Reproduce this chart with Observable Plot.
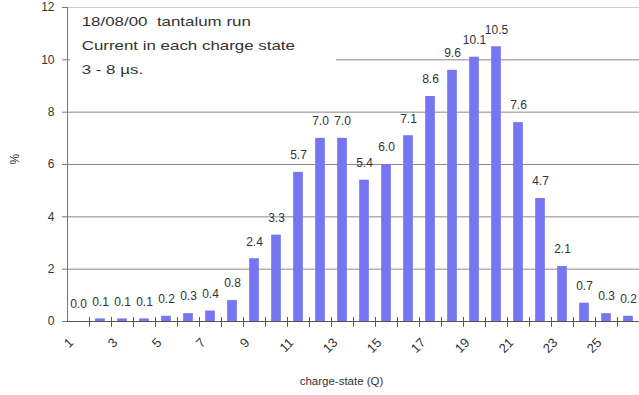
<!DOCTYPE html>
<html>
<head>
<meta charset="utf-8">
<script src="https://cdn.jsdelivr.net/npm/d3@7"></script>
<script src="https://cdn.jsdelivr.net/npm/@observablehq/plot@0.6"></script>
<style>
  body { margin: 0; background: #fff; font-family: "Liberation Sans", Arial, sans-serif; }
  #chart { position: relative; width: 639px; height: 395px; overflow: hidden; }
  #chart svg { display: block; }
  #note {
    position: absolute; left: 70px; top: 10px; width: 266px; height: 68px;
    background: #fff; color: #333; font-size: 13px; line-height: 24px;
  }
  #note div { transform: scaleX(1.3); transform-origin: 0 0; white-space: pre; padding-left: 9px; }
</style>
</head>
<body>
<div id="chart"></div>
<script>
// Charge states of the tantalum beam and the share of current in each (%)
const states = [1, 2, 3, 4, 5, 6, 7, 8, 9, 10, 11, 12, 13, 14, 15, 16, 17, 18, 19, 20, 21, 22, 23, 24, 25, 26];
const percent = [0.0, 0.1, 0.1, 0.1, 0.2, 0.3, 0.4, 0.8, 2.4, 3.3, 5.7, 7.0, 7.0, 5.4, 6.0, 7.1, 8.6, 9.6, 10.1, 10.5, 7.6, 4.7, 2.1, 0.7, 0.3, 0.2];
const xTickLabels = [1, 3, 5, 7, 9, 11, 13, 15, 17, 19, 21, 23, 25];
const yTicks = [0, 2, 4, 6, 8, 10, 12];
const noteLines = ["18/08/00  tantalum run", "Current in each charge state", "3 - 8 µs."];

const data = states.map((s, i) => ({state: s, pct: percent[i]}));
// category boundaries, where the axis tick marks sit
const boundaries = states.slice(0, -1).map(s => s + 0.5);
const half = 0.22; // half bar width, in category units

const chart = Plot.plot({
  width: 639,
  height: 395,
  marginLeft: 67,
  marginRight: 0,
  marginTop: 7,
  marginBottom: 74,
  style: {fontFamily: "'Liberation Sans', Arial, sans-serif", fontSize: "11px", color: "#333", background: "#fff"},
  x: {type: "linear", domain: [states[0] - 0.5, states[states.length - 1] + 0.5]},
  y: {domain: [0, 12]},
  marks: [
    Plot.ruleY(yTicks.filter(t => t > 0 && t < 12), {stroke: "#8a8a8a"}),
    Plot.ruleY([12], {stroke: "#cfcfcf"}),
    Plot.rectY(data, {x1: d => d.state - half, x2: d => d.state + half, y: "pct", fill: "#7676f2"}),
    Plot.ruleX([states[0] - 0.5], {stroke: "#777"}),
    Plot.ruleY([0], {stroke: "#555"}),
    Plot.ruleX(boundaries, {x: d => d, y1: -0.22, y2: 0.15, stroke: "#555"}),
    Plot.axisY({ticks: yTicks, tickSize: 5, tickPadding: 8, label: null, stroke: "#777", fontSize: 12}),
    Plot.axisX({ticks: xTickLabels, tickSize: 0, tickRotate: -45, tickPadding: 19, dx: -7, label: null, fontSize: 13}),
    Plot.text(data, {x: "state", y: "pct", text: d => d.pct.toFixed(1), dy: -17, fontSize: 12, fill: "#333"}),
    Plot.text(["%"], {text: d => d, frameAnchor: "left", dx: -52, rotate: -90, fontSize: 12, fill: "#333"}),
    Plot.text(["charge-state (Q)"], {text: d => d, frameAnchor: "bottom", dy: 63, dx: -12, fontSize: 11.5, fill: "#333"})
  ]
});

const host = document.getElementById("chart");
host.appendChild(chart);
const note = document.createElement("div");
note.id = "note";
for (const line of noteLines) {
  const el = document.createElement("div");
  el.textContent = line;
  note.appendChild(el);
}
host.appendChild(note);
</script>
</body>
</html>
